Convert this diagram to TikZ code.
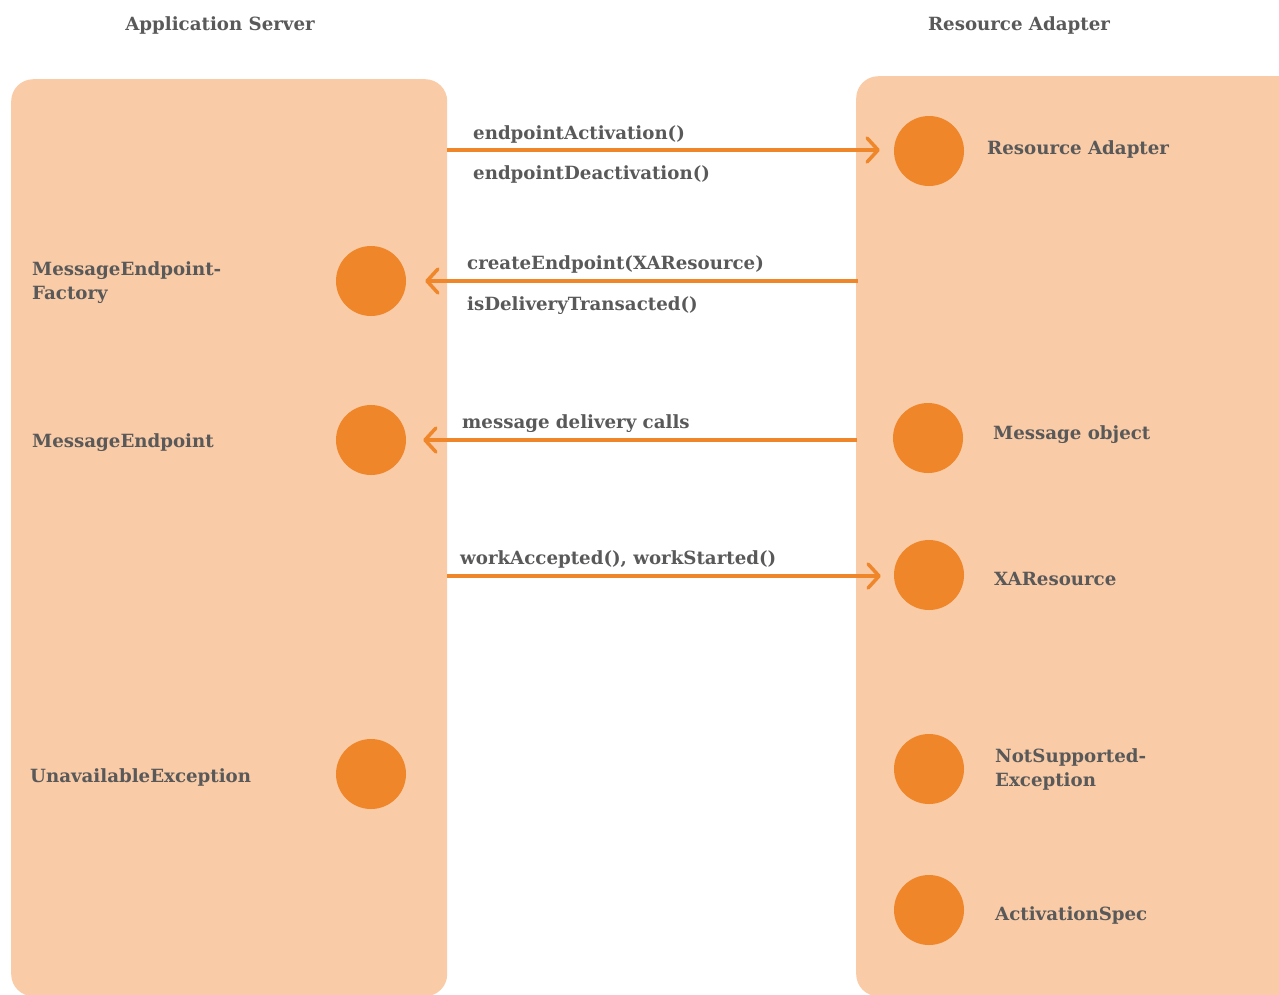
\documentclass[tikz,border=0pt]{standalone}
\usepackage{fontspec}
\setmainfont{DejaVu Serif}
\usetikzlibrary{arrows.meta}
\definecolor{boxfill}{HTML}{F9CBA7}
\definecolor{dotc}{HTML}{F0862A}
\definecolor{txt}{HTML}{595959}
\begin{document}
\begin{tikzpicture}[x=1pt,y=-1pt,
  lbl/.style={font=\bfseries\fontsize{18.2}{24}\selectfont, text=txt, inner sep=0pt, anchor=base west, align=left},
  ttl/.style={font=\bfseries\fontsize{18.2}{24}\selectfont, text=txt, inner sep=0pt, anchor=base},
  dotnode/.style={circle, fill=dotc, minimum size=70pt, inner sep=0pt},
  panel/.style={fill=boxfill, rounded corners=22pt, draw=none, inner sep=0pt, anchor=north west},
  conn/.style={draw=dotc, line width=3.5pt, -{Straight Barb[length=11pt,width=24pt,round]}}
]
\useasboundingbox (0,0) rectangle (1279,994);
\clip (0,0) rectangle (1279,994);
% panels
\node[panel, minimum width=436pt, minimum height=917pt] (asp) at (11,79) {};
\node[panel, minimum width=450pt, minimum height=920pt] (rap) at (856,76) {};
% titles
\node[ttl] (t1) at (220,30) {Application Server};
\node[ttl] (t2) at (1019,30) {Resource Adapter};
% left circles
\node[dotnode] (mef) at (371,281) {};
\node[dotnode] (me) at (371,440) {};
\node[dotnode] (ue) at (371,774) {};
% right circles
\node[dotnode] (ra) at (929,151) {};
\node[dotnode] (mo) at (928,438) {};
\node[dotnode] (xa) at (929,575) {};
\node[dotnode] (nse) at (929,769) {};
\node[dotnode] (as) at (929,910) {};
% left labels
\node[lbl] (lmef) at (32,299) {MessageEndpoint-\\Factory};
\node[lbl] (lme) at (32,447) {MessageEndpoint};
\node[lbl] (lue) at (30,782) {UnavailableException};
% right labels
\node[lbl] (lra) at (987,154) {Resource Adapter};
\node[lbl] (lmo) at (993,439) {Message object};
\node[lbl] (lxa) at (994,585) {XAResource};
\node[lbl] (lnse) at (995,786) {NotSupported-\\Exception};
\node[lbl] (las) at (995,920) {ActivationSpec};
% arrow labels
\node[lbl] (a1) at (473,139) {endpointActivation()};
\node[lbl] (a1b) at (473,179) {endpointDeactivation()};
\node[lbl] (a2) at (467,269) {createEndpoint(XAResource)};
\node[lbl] (a2b) at (467,310) {isDeliveryTransacted()};
\node[lbl] (a3) at (462,428) {message delivery calls};
\node[lbl] (a4) at (460,564) {workAccepted(), workStarted()};
% connectors
\draw[conn] (asp.east |- 0,150) -- ([xshift=-14pt]ra.west |- 0,150);
\draw[conn] ([xshift=2pt]rap.west |- mef) -- ([xshift=19pt]mef.east);
\draw[conn] ([xshift=1pt]rap.west |- me) -- ([xshift=17pt]me.east);
\draw[conn] (asp.east |- 0,576) -- ([xshift=-13pt]xa.west |- 0,576);
\end{tikzpicture}
\end{document}
